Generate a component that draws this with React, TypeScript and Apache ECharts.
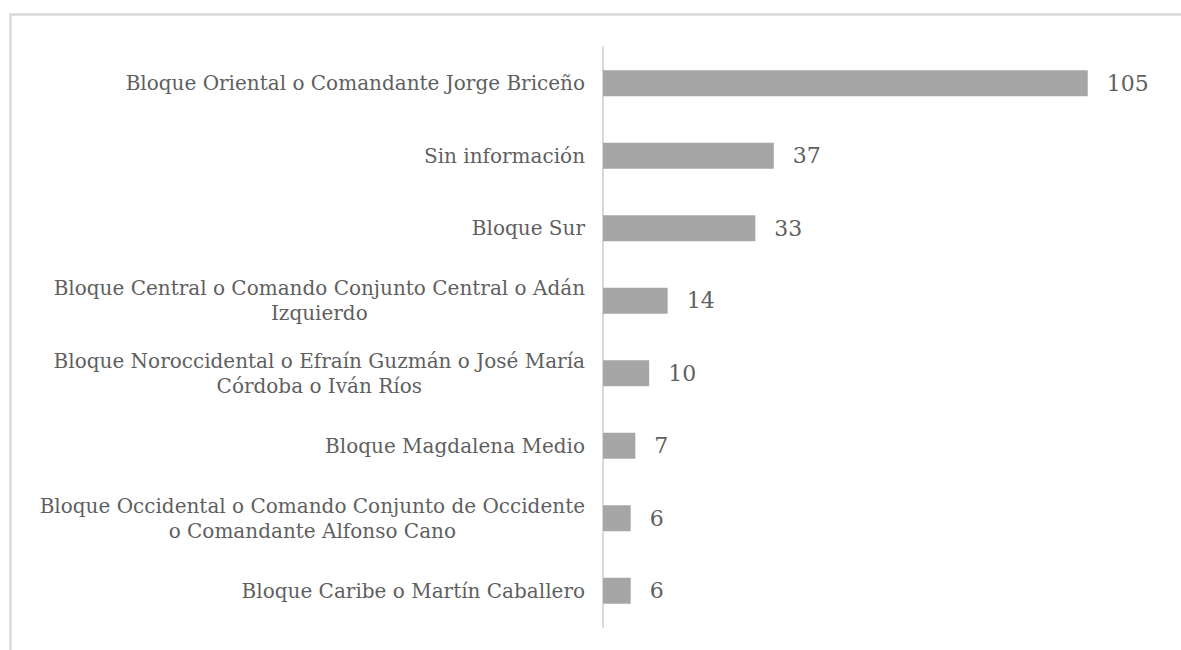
import React, { useEffect, useRef } from "react";
import * as echarts from "echarts";

const categories: string[] = [
  "Bloque Oriental o Comandante Jorge Briceño",
  "Sin información",
  "Bloque Sur",
  "Bloque Central o Comando Conjunto Central o Adán\nIzquierdo",
  "Bloque Noroccidental o Efraín Guzmán o José María\nCórdoba o Iván Ríos",
  "Bloque Magdalena Medio",
  "Bloque Occidental o Comando Conjunto de Occidente\no Comandante Alfonso Cano",
  "Bloque Caribe o Martín Caballero",
];

const values: number[] = [105, 37, 33, 14, 10, 7, 6, 6];

const FONT = "'DejaVu Serif', serif";

export default function App() {
  const ref = useRef<HTMLDivElement>(null);
  useEffect(() => {
    if (!ref.current) return;
    const chart = echarts.init(ref.current, undefined, { renderer: "svg" });
    chart.setOption({
      animation: false,
      backgroundColor: "#ffffff",
      graphic: [
        {
          type: "rect",
          shape: { x: 10.5, y: 14.5, width: 1300, height: 800 },
          style: { fill: "none", stroke: "#d9d9d9", lineWidth: 2.5 },
          silent: true,
          z: 0,
        },
      ],
      grid: { left: 603, top: 47, bottom: 23, right: 24, containLabel: false },
      xAxis: {
        type: "value",
        min: 0,
        max: 120,
        show: false,
        splitLine: { show: false },
      },
      yAxis: {
        type: "category",
        inverse: true,
        data: categories,
        axisLine: { show: true, lineStyle: { color: "#d9d9d9", width: 2 } },
        axisTick: { show: false },
        splitLine: { show: false },
        axisLabel: {
          margin: 18,
          align: "right",
          color: "#5f5f5f",
          fontFamily: FONT,
          fontSize: 20,
          lineHeight: 25,
          formatter: (v: string) =>
            v
              .split("\n")
              .map((s) => "{c|" + s + "}")
              .join("\n"),
          rich: {
            c: {
              align: "center",
              color: "#5f5f5f",
              fontFamily: FONT,
              fontSize: 20,
              lineHeight: 25,
            },
          },
        },
      },
      series: [
        {
          type: "bar",
          data: values,
          barWidth: 26,
          itemStyle: { color: "#a6a6a6" },
          label: {
            show: true,
            position: "right",
            distance: 19,
            color: "#5f5f5f",
            fontFamily: FONT,
            fontSize: 22,
          },
        },
      ],
    });
    return () => chart.dispose();
  }, []);
  return (
    <div
      ref={ref}
      style={{ position: "fixed", left: 0, top: 0, width: 1181, height: 650 }}
    />
  );
}
